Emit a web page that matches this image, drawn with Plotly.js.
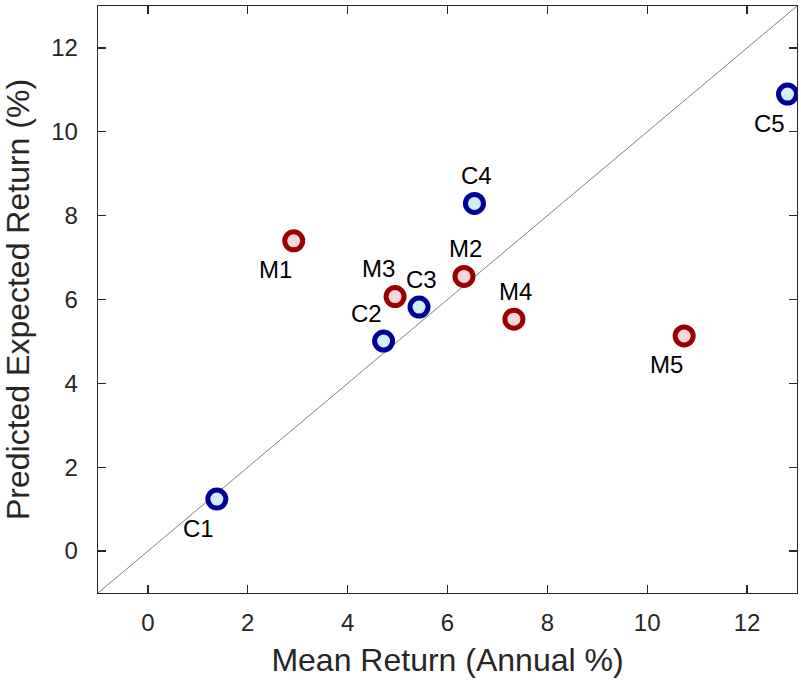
<!DOCTYPE html>
<html>
<head>
<meta charset="utf-8">
<script src="https://cdn.plot.ly/plotly-3.0.1.min.js"></script>
<style>html,body{margin:0;padding:0;background:#fff;}#chart{width:801px;height:683px;}</style>
</head>
<body>
<div id="chart"></div>
<script>
// ---- data ----
var cNames = ['C1', 'C2', 'C3', 'C4', 'C5'];
var cMean = [1.38, 4.72, 5.43, 6.54, 12.81];
var cPred = [1.24, 5.01, 5.82, 8.29, 10.90];
var mNames = ['M1', 'M2', 'M3', 'M4', 'M5'];
var mMean = [2.92, 6.33, 4.95, 7.33, 10.74];
var mPred = [7.40, 6.55, 6.07, 5.53, 5.13];
var diagLine = [-1, 13];
var xTicks = [0, 2, 4, 6, 8, 10, 12];
var yTicks = [0, 2, 4, 6, 8, 10, 12];
// label placement (style)
var cPlace = ['bl', 'tl', 't', 't', 'bl'];
var mPlace = ['bl', 't', 'tl', 't', 'bl'];

var shifts = {
  't':  {x: 2,   y: 28},
  'bl': {x: -18, y: -29},
  'tl': {x: -17, y: 28}
};

var axisCol = '#262626';
var fontFam = 'Liberation Sans, Arial, Helvetica, sans-serif';

var traces = [
  {x: diagLine, y: diagLine, mode: 'lines', line: {color: '#808080', width: 1}, hoverinfo: 'skip', showlegend: false},
  {x: cMean, y: cPred, mode: 'markers', showlegend: false,
   marker: {size: 18, color: '#d2edf6', line: {color: '#000099', width: 5}}},
  {x: mMean, y: mPred, mode: 'markers', showlegend: false,
   marker: {size: 18, color: '#f7d6dc', line: {color: '#990000', width: 5}}}
];

var annotations = [];
function addLabels(names, xs, ys, place) {
  for (var i = 0; i < names.length; i++) {
    var s = shifts[place[i]];
    annotations.push({x: xs[i], y: ys[i], xref: 'x', yref: 'y', text: names[i], showarrow: false,
      xanchor: 'center', yanchor: 'middle', xshift: s.x, yshift: s.y,
      font: {family: fontFam, size: 24, color: '#000000'}});
  }
}
addLabels(cNames, cMean, cPred, cPlace);
addLabels(mNames, mMean, mPred, mPlace);

var axBase = {
  showgrid: false, zeroline: false, showline: true, mirror: 'ticks',
  linecolor: axisCol, linewidth: 1.3, ticks: 'inside', ticklen: 8, tickwidth: 1.3, tickcolor: axisCol,
  tickfont: {family: fontFam, size: 24, color: axisCol}
};

var layout = {
  width: 801, height: 683,
  margin: {l: 98, r: 4, t: 6, b: 90},
  paper_bgcolor: '#ffffff', plot_bgcolor: '#ffffff',
  showlegend: false,
  xaxis: Object.assign({}, axBase, {
    range: [-1, 13], tickvals: xTicks, ticktext: xTicks.map(String), ticklabelstandoff: 8,
    title: {text: 'Mean Return (Annual %)', font: {family: fontFam, size: 32, color: axisCol}, standoff: 13}
  }),
  yaxis: Object.assign({}, axBase, {
    range: [-1, 13], tickvals: yTicks, ticktext: yTicks.map(String), ticklabelstandoff: 14,
    title: {text: 'Predicted Expected Return (%)', font: {family: fontFam, size: 32, color: axisCol}, standoff: 12}
  }),
  annotations: annotations
};

Plotly.newPlot('chart', traces, layout, {displayModeBar: false, staticPlot: true});
</script>
</body>
</html>
